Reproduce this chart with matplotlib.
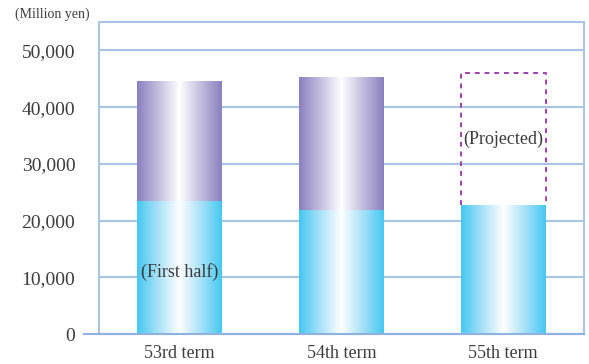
import matplotlib.pyplot as plt
import numpy as np
from matplotlib.colors import LinearSegmentedColormap

plt.rcParams['font.family'] = ['Liberation Serif', 'DejaVu Serif']

terms = ['53rd term', '54th term', '55th term']
first_half = [23400, 21800, 22700]
full_year = [44400, 45100, 46000]
is_projected = [False, False, True]

grid_col = '#a9c3e3'
text_col = '#3c3c3c'

cyan = LinearSegmentedColormap.from_list('cy', ['#45c8f2', '#a9e2f8', '#ffffff', '#a9e2f8', '#45c8f2'])
purple = LinearSegmentedColormap.from_list('pu', ['#8a80bf', '#c3bede', '#ffffff', '#c3bede', '#8a80bf'])
grad = np.linspace(0, 1, 256).reshape(1, -1)

fig = plt.figure(figsize=(5.89, 3.64), dpi=100)
ax = fig.add_axes([0.168, 0.0824, 0.8235, 0.857])

x = np.arange(len(terms))
w = 0.525
second = [f - h for f, h in zip(full_year, first_half)]

b1 = ax.bar(x, first_half, width=w, color='none', edgecolor='none', zorder=3)
b2 = ax.bar(x, second, width=w, bottom=first_half, color='none', edgecolor='none', zorder=3)

def fill(patch, cmap):
    x0, y0 = patch.get_x(), patch.get_y()
    ax.imshow(grad, cmap=cmap, aspect='auto', zorder=3,
              extent=[x0, x0 + patch.get_width(), y0, y0 + patch.get_height()])

for i, (p1, p2) in enumerate(zip(b1, b2)):
    fill(p1, cyan)
    if is_projected[i]:
        x0, y0 = p2.get_x(), p2.get_y()
        x1, y1 = x0 + p2.get_width(), y0 + p2.get_height()
        ax.plot([x0, x0, x1, x1], [y0, y1, y1, y0], color='#a040b0', lw=1.4,
                ls=(0, (2.5, 2.5)), zorder=4)
        ax.text(x[i], y0 + 0.5 * (y1 - y0), '(Projected)', ha='center', va='center',
                fontsize=13, color=text_col, zorder=5)
    else:
        fill(p2, purple)

ax.text(x[0], 11000, '(First half)', ha='center', va='center', fontsize=13,
        color=text_col, zorder=5)

ax.set_xlim(-0.5, 2.5)
ax.set_ylim(0, 55000)
ax.set_yticks(np.arange(0, 50001, 10000))
ax.set_yticklabels([f'{v:,}' for v in range(0, 50001, 10000)])
ax.set_xticks(x)
ax.set_xticklabels(terms)
ax.tick_params(length=0, labelsize=14, colors=text_col)
ax.tick_params(axis='y', pad=17)
ax.tick_params(axis='x', pad=8, labelsize=13)
ax.grid(axis='y', color=grid_col, lw=1.5, zorder=1)
ax.set_axisbelow(True)
for s in ax.spines.values():
    s.set_color(grid_col)
    s.set_linewidth(1.5)
ax.axhline(0, xmin=-0.031, xmax=1, color='#8fb3e0', lw=1.5, clip_on=False, zorder=6)

fig.text(0.025, 0.962, '(Million yen)', fontsize=10, color=text_col, va='center')

fig.savefig('out.png', dpi=100, facecolor='white')
